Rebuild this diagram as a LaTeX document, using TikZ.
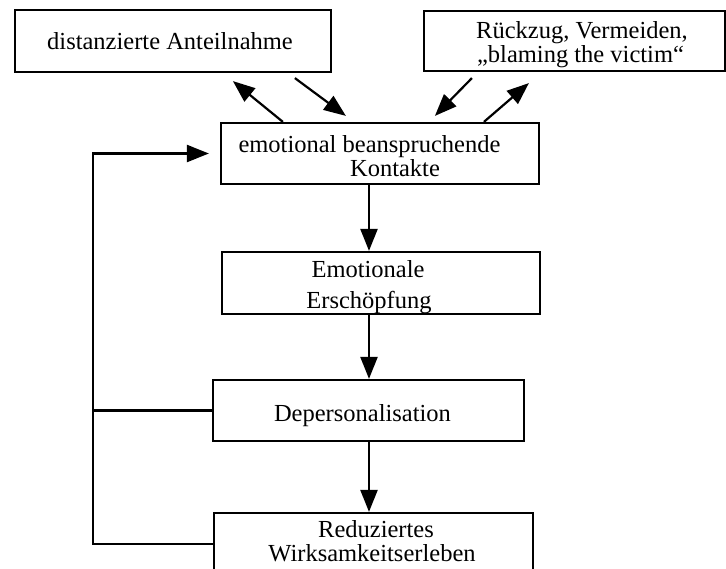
\documentclass[tikz,border=0pt]{standalone}
\usepackage{fontspec}
\setmainfont{Liberation Serif}
\usetikzlibrary{arrows.meta}
\begin{document}
\begin{tikzpicture}[x=1pt,y=-1pt,
  box/.style={draw, line width=2.2pt, inner sep=0pt, align=center, text depth=0pt},
  txt/.style={font=\fontsize{24.5}{#1}\selectfont},
  txt/.default=24,
  arr/.style={line width=2.2pt, -{Triangle[length=22pt,width=17pt]}},
  link/.style={line width=2.2pt}]
\useasboundingbox[fill=white] (0,0) rectangle (726,568);

% boxes (text height places the last baseline inside each box)
\node[box, txt, text height=16.6pt, minimum width=316pt, minimum height=62pt]
  (anteil) at (173,41)
  {distanzierte Anteilnahme\hspace*{6pt}};
\node[box, txt=22, text height=42pt, minimum width=301pt, minimum height=60pt]
  (rueckzug) at (574.5,41)
  {\hspace*{15pt}Rückzug, Vermeiden,\\\hspace*{12pt}„blaming the victim“};
\node[box, txt=24, text height=45pt, minimum width=318pt, minimum height=61pt]
  (kontakte) at (380,153.5)
  {emotional beanspruchende\hspace*{21pt}\\\hspace*{30pt}Kontakte};
\node[box, txt=31, text height=50pt, minimum width=318pt, minimum height=62pt]
  (erschoepf) at (381,283)
  {Emotionale\hspace*{26pt}\\Erschöpfung\hspace*{24pt}};
\node[box, txt, text height=22pt, minimum width=311pt, minimum height=61pt]
  (depers) at (368.5,410.5)
  {Depersonalisation\hspace*{12pt}};
\node[box, txt=24, text height=35pt, minimum width=319pt, minimum height=62pt]
  (reduz) at (373.5,544)
  {\hspace*{5pt}Reduziertes\\Wirksamkeitserleben\hspace*{3pt}};

% main axis of the chain and the feedback line
\coordinate (axis) at (369,0);
\coordinate (loopx) at (93,0);

% exchange between contacts and the two coping boxes
\draw[arr] ([xshift=63]kontakte.north west) -- ([shift={(219,8)}]anteil.south west);
\draw[arr] ([shift={(281,5)}]anteil.south west) -- ([shift={(126,-6)}]kontakte.north west);
\draw[arr] ([shift={(49,6)}]rueckzug.south west) -- ([shift={(215,-6)}]kontakte.north west);
\draw[arr] ([xshift=264]kontakte.north west) -- ([shift={(106,11)}]rueckzug.south west);

% chain downwards
\draw[arr] (kontakte.south -| axis) -- (erschoepf.north -| axis);
\draw[arr] (erschoepf.south -| axis) -- (depers.north -| axis);
\draw[arr] (depers.south -| axis) -- (reduz.north -| axis);

% feedback loop
\draw[arr] (reduz.west) -- (reduz.west -| loopx) -- (loopx |- kontakte.west)
  -- ([xshift=-11]kontakte.west);
\draw[link] (depers.west) -- (depers.west -| loopx);
\end{tikzpicture}
\end{document}
